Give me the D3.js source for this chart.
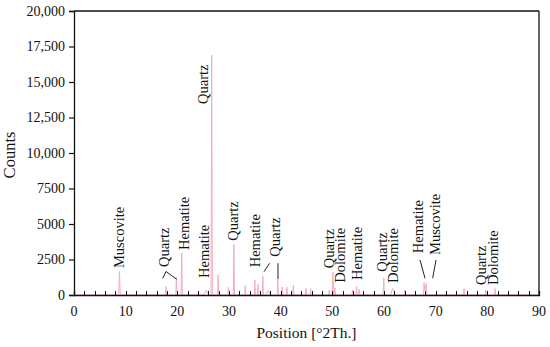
<!DOCTYPE html>
<html>
<head>
<meta charset="utf-8">
<script src="https://cdn.jsdelivr.net/npm/d3@7/dist/d3.min.js"></script>
<style>
body { margin: 0; background: #fff; }
text { font-family: "Liberation Serif", "Times New Roman", serif; fill: #111; }
</style>
</head>
<body>
<div id="chart"></div>
<script>
// diffraction trace (position in °2Th., counts)
const position = [0, 8.65, 8.8, 8.95, 17.68, 17.8, 17.92, 19.7, 19.82, 19.94, 20.73, 20.85, 20.97,
    25.2, 25.45, 25.6, 25.75, 26.0, 26.52, 26.65, 26.78, 27.78, 27.9, 28.02, 29.78, 29.9, 30.02,
    30.83, 30.95, 31.07, 33.03, 33.15, 33.27, 34.88, 35.0, 35.12, 35.48, 35.6, 35.72,
    36.43, 36.55, 36.67, 37.2, 37.45, 37.6, 37.75, 38.0, 39.33, 39.45, 39.57, 40.18, 40.3, 40.42,
    41.08, 41.2, 41.32, 42.33, 42.45, 42.57, 44.78, 44.9, 45.02, 45.68, 45.8, 45.92,
    49.28, 49.4, 49.52, 49.98, 50.1, 50.22, 50.38, 50.5, 50.62, 53.78, 53.9, 54.02,
    54.58, 54.7, 54.82, 55.08, 55.2, 55.32, 59.83, 59.95, 60.07, 61.3, 61.55, 61.7, 61.85, 62.1,
    63.88, 64.0, 64.12, 67.63, 67.75, 67.9, 68.2, 68.32, 75.38, 75.5, 75.62,
    79.58, 79.7, 79.82, 81.38, 81.5, 81.62, 90];
const counts = [0, 0, 1650, 0, 0, 600, 0, 0, 1250, 0, 0, 2950, 0,
    0, 250, 350, 250, 0, 0, 16900, 0, 0, 1400, 0, 0, 550, 0,
    0, 3550, 0, 0, 650, 0, 0, 1050, 0, 0, 750, 0,
    0, 1350, 0, 0, 220, 300, 220, 0, 0, 1050, 0, 0, 550, 0,
    0, 550, 0, 0, 700, 0, 0, 450, 0, 0, 450, 0,
    0, 350, 0, 0, 1600, 0, 0, 500, 0, 0, 350, 0,
    0, 600, 0, 0, 400, 0, 0, 1200, 0, 0, 330, 450, 330, 0,
    0, 350, 0, 0, 900, 300, 800, 0, 0, 450, 0,
    0, 350, 0, 0, 450, 0, 0];

const xTicks = [0, 10, 20, 30, 40, 50, 60, 70, 80, 90];
const yTicks = [0, 2500, 5000, 7500, 10000, 12500, 15000, 17500, 20000];

// phase labels: text, position and counts at the foot of the rotated text
const phaseNames = ["Muscovite", "Quartz", "Hematite", "Hematite", "Quartz", "Quartz", "Hematite", "Quartz",
    "Quartz", "Dolomite", "Hematite", "Quartz", "Dolomite", "Hematite", "Muscovite", "Quartz", "Dolomite"];
const phaseAt = [8.71, 17.42, 21.29, 25.16, 24.97, 30.77, 34.94, 38.9,
    49.45, 51.39, 54.83, 59.52, 61.74, 66.58, 69.93, 78.81, 81.1];
const phaseFoot = [1900, 1970, 3170, 1200, 13450, 3820, 1950, 2700,
    1880, 870, 1060, 1640, 850, 2940, 2820, 700, 700];

// leader lines [x1, y1, x2, y2] in data units
const leaders = [
    [17.81, 1655, 17.17, 1162], [17.81, 1655, 19.88, 1106],
    [36.77, 1641, 37.84, 2232], [39.48, 2232, 39.48, 1106],
    [66.97, 2465, 67.94, 1176], [70.06, 2465, 69.42, 1176]
];

const margin = { top: 11, right: 11, bottom: 52, left: 74 },
    complete_width = 550,
    complete_height = 347,
    width = complete_width - margin.left - margin.right,
    height = complete_height - margin.top - margin.bottom;

const svg = d3.select("#chart")
    .append("svg")
    .attr("width", complete_width)
    .attr("height", complete_height)
    .append("g")
    .attr("transform", `translate(${margin.left},${margin.top})`);

const x = d3.scaleLinear().domain([0, 90]).range([0, width]);
const y = d3.scaleLinear().domain([0, 20000]).range([height, 0]);

// trace
const line = d3.line()
    .x((d, i) => x(position[i]))
    .y(d => y(d));
svg.append("path")
    .datum(counts)
    .attr("d", line)
    .attr("fill", "none")
    .attr("stroke", "#f3aebc")
    .attr("stroke-width", 1);

// frame top and right
svg.append("line").attr("x1", 0).attr("x2", width).attr("y1", 0).attr("y2", 0)
    .attr("stroke", "#111").attr("stroke-width", 1.3);
svg.append("line").attr("x1", width).attr("x2", width).attr("y1", 0).attr("y2", height)
    .attr("stroke", "#111").attr("stroke-width", 1.3);

// x axis, small ticks every 2 pointing in
const xAxis = svg.append("g")
    .attr("transform", `translate(0,${height})`)
    .call(d3.axisBottom(x).tickValues(d3.range(0, 91, 2)).tickSize(-4).tickFormat(""));
xAxis.select(".domain").attr("stroke", "#111").attr("stroke-width", 1.3);
xAxis.selectAll(".tick line").attr("stroke", "#111").attr("stroke-width", 1.1)
    .attr("shape-rendering", "crispEdges");
svg.append("g").selectAll("text")
    .data(xTicks)
    .join("text")
    .attr("x", d => x(d))
    .attr("y", height + 21)
    .attr("text-anchor", "middle")
    .style("font-size", "14px")
    .text(d => d);

// y axis
const yAxis = svg.append("g")
    .call(d3.axisLeft(y).tickValues(yTicks).tickSize(5).tickPadding(4)
        .tickFormat(d => d >= 10000 ? d3.format(",")(d) : d));
yAxis.select(".domain").attr("stroke", "#111").attr("stroke-width", 1.3);
yAxis.selectAll(".tick line").attr("stroke", "#111").attr("stroke-width", 1.2);
yAxis.selectAll(".tick text")
    .style("font-family", "'Liberation Serif', serif")
    .style("font-size", "14px")
    .attr("fill", "#111");

// axis titles
svg.append("text")
    .attr("x", width / 2)
    .attr("y", height + 43)
    .attr("text-anchor", "middle")
    .style("font-size", "15.5px")
    .text("Position [°2Th.]");
svg.append("text")
    .attr("transform", `translate(${9 - margin.left},${144}) rotate(-90)`)
    .attr("text-anchor", "middle")
    .attr("dominant-baseline", "central")
    .style("font-size", "16.5px")
    .text("Counts");

// leader lines
svg.append("g").selectAll("line")
    .data(leaders)
    .join("line")
    .attr("x1", d => x(d[0])).attr("y1", d => y(d[1]))
    .attr("x2", d => x(d[2])).attr("y2", d => y(d[3]))
    .attr("stroke", "#222")
    .attr("stroke-width", 1);

// phase labels
svg.append("g").selectAll("text")
    .data(phaseNames)
    .join("text")
    .attr("transform", (d, i) => `translate(${x(phaseAt[i])},${y(phaseFoot[i])}) rotate(-90)`)
    .attr("dominant-baseline", "central")
    .style("font-size", "14.5px")
    .text(d => d);
</script>
</body>
</html>
